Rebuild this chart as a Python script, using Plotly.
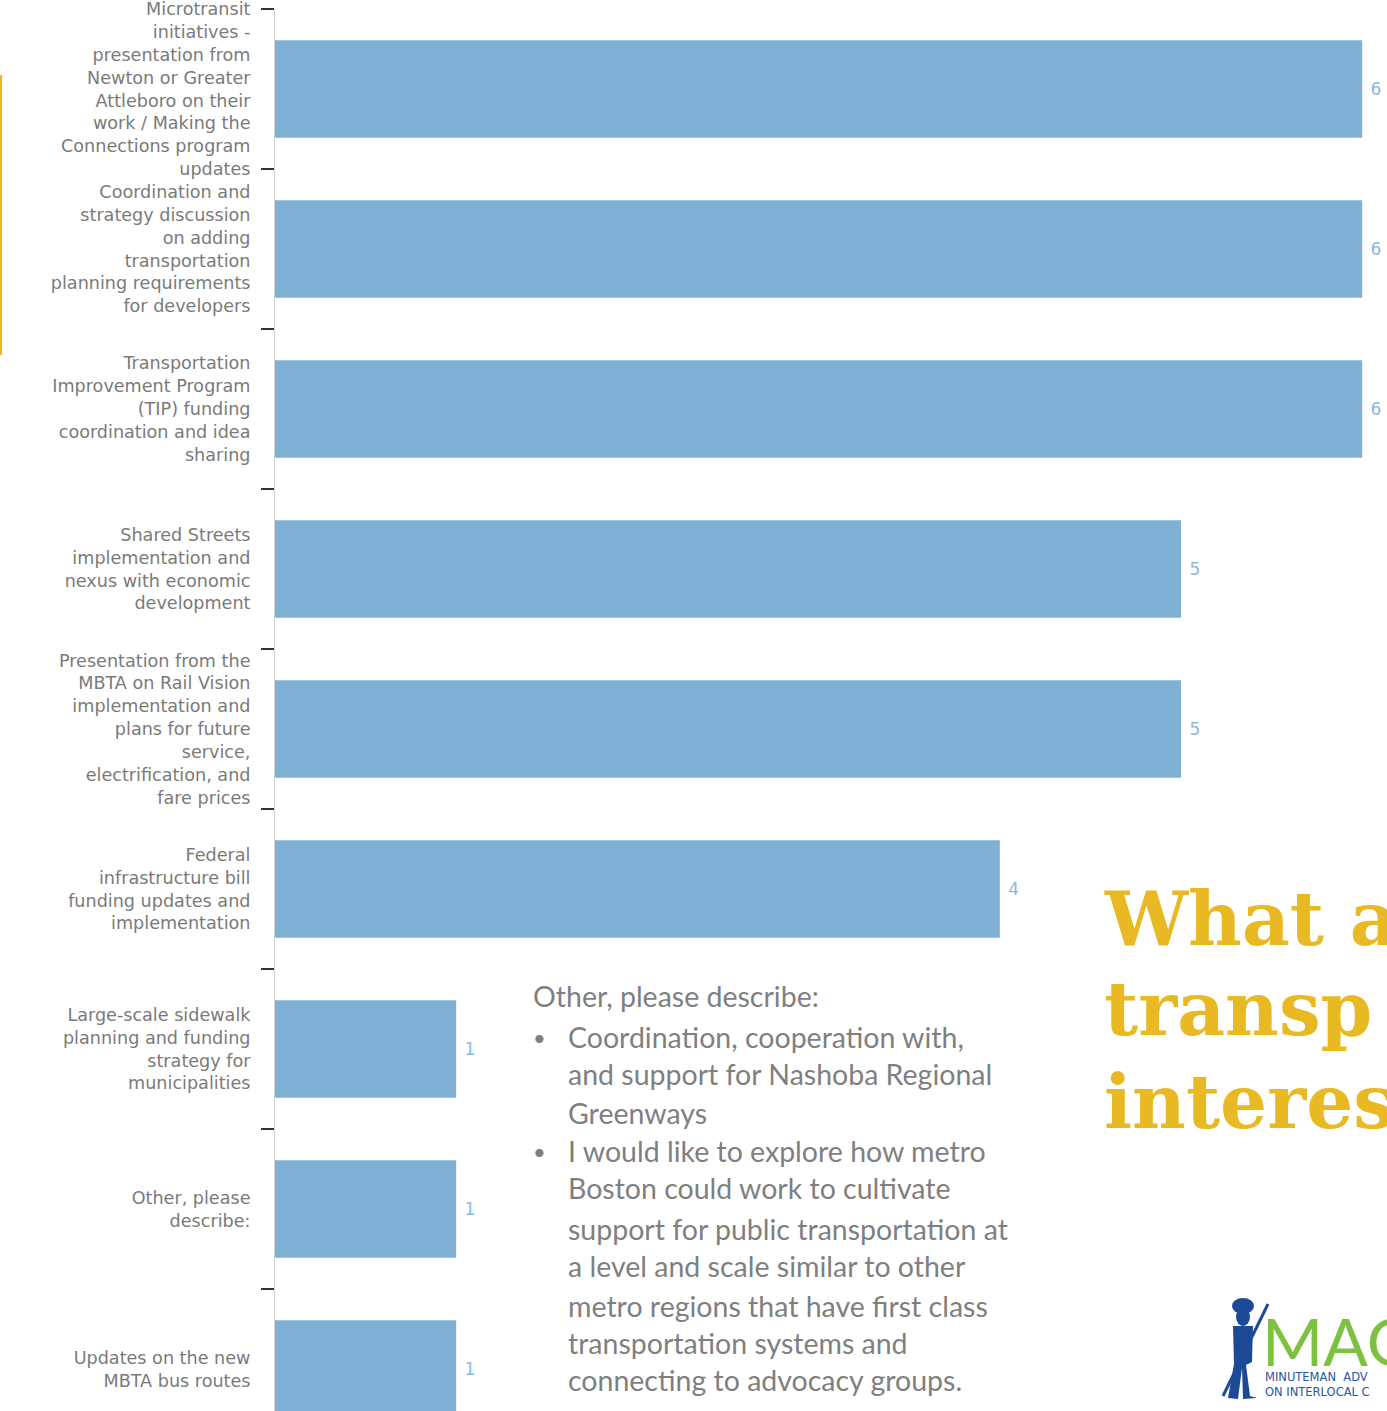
import plotly.graph_objects as go

# ---------------- data ----------------
categories = [
    "Microtransit<br>initiatives -<br>presentation from<br>Newton or Greater<br>Attleboro on their<br>work / Making the<br>Connections program<br>updates",
    "Coordination and<br>strategy discussion<br>on adding<br>transportation<br>planning requirements<br>for developers",
    "Transportation<br>Improvement Program<br>(TIP) funding<br>coordination and idea<br>sharing",
    "Shared Streets<br>implementation and<br>nexus with economic<br>development",
    "Presentation from the<br>MBTA on Rail Vision<br>implementation and<br>plans for future<br>service,<br>electrification, and<br>fare prices",
    "Federal<br>infrastructure bill<br>funding updates and<br>implementation",
    "Large-scale sidewalk<br>planning and funding<br>strategy for<br>municipalities",
    "Other, please<br>describe:",
    "Updates on the new<br>MBTA bus routes",
]
values = [6, 6, 6, 5, 5, 4, 1, 1, 1]

other_heading = "Other, please describe:"
other_bullets = [
    ["Coordination, cooperation with,", "and support for Nashoba Regional", "Greenways"],
    ["I would like to explore how metro", "Boston could work to cultivate",
     "support for public transportation at", "a level and scale similar to other",
     "metro regions that have first class", "transportation systems and",
     "connecting to advocacy groups."],
]
title_lines = ["What a", "transp", "interes"]
logo_big = "MAG"
logo_small = ["MINUTEMAN  ADV", "ON INTERLOCAL C"]

# ---------------- layout helpers ----------------
W, H = 1387, 1411
ML, MR, MT, MB = 275, 0, 9, 0
PW, PH = W - ML - MR, H - MT - MB


def px(x):
    return (x - ML) / PW


def py(y):
    return (H - MB - y) / PH


BAR = "#80b0d3"
GREY = "#7a7a7a"
GOLD = "#e8b923"

fig = go.Figure(
    go.Bar(
        x=values,
        y=categories,
        orientation="h",
        marker=dict(color=BAR, line=dict(width=0)),
        width=0.61,
        texttemplate=" %{x}",
        textposition="outside",
        textfont=dict(family="DejaVu Sans", size=17, color="#8cb8de"),
        constraintext="none",
        cliponaxis=False,
        hoverinfo="skip",
    )
)

fig.update_xaxes(
    range=[0, PW / 181.2],
    visible=False,
    showgrid=False,
    zeroline=False,
)
fig.update_yaxes(
    type="category",
    categoryorder="array",
    categoryarray=categories,
    range=[len(categories) - 1 + (PH / 160 - len(categories)) + 0.5, -0.5],
    showline=True,
    linecolor="#cfcfcf",
    linewidth=1,
    ticks="outside",
    ticklen=13,
    tickwidth=1.5,
    tickcolor="#333333",
    tickson="boundaries",
    ticklabelstandoff=20,
    tickfont=dict(family="DejaVu Sans", size=17.6, color=GREY),
    showgrid=False,
    zeroline=False,
)

annotations = []
shapes = []

# "Other" text block
text_font = dict(family="Lato", size=28.5, color="#7f7f7f")
annotations.append(dict(x=px(531), y=py(996), xref="paper", yref="paper",
                        text=other_heading, showarrow=False, xanchor="left",
                        yanchor="middle", font=text_font))
line_ys = [[1037, 1074, 1113], [1151, 1188, 1229, 1266, 1306, 1343, 1380]]
for bullet, ys in zip(other_bullets, line_ys):
    annotations.append(dict(x=px(531), y=py(ys[0]), xref="paper", yref="paper",
                            text="•", showarrow=False, xanchor="left",
                            yanchor="middle",
                            font=dict(family="Lato", size=22, color="#7f7f7f")))
    for line, yy in zip(bullet, ys):
        annotations.append(dict(x=px(566), y=py(yy), xref="paper", yref="paper",
                                text=line, showarrow=False, xanchor="left",
                                yanchor="middle", font=text_font))

# big gold title (cut off at the right edge)
for line, yy in zip(title_lines, [919, 1009, 1102]):
    annotations.append(dict(x=px(1102), y=py(yy), xref="paper", yref="paper",
                            text="<b>" + line + "</b>", showarrow=False,
                            xanchor="left", yanchor="middle",
                            font=dict(family="DejaVu Serif", size=74, color=GOLD)))

# logo
annotations.append(dict(x=px(1260), y=py(1340), xref="paper", yref="paper",
                        text=logo_big, showarrow=False, xanchor="left",
                        yanchor="middle",
                        font=dict(family="Lato", size=66, color="#7dc142")))
annotations.append(dict(x=px(1263), y=py(1384), xref="paper", yref="paper",
                        text="<br>".join(logo_small), showarrow=False,
                        xanchor="left", yanchor="middle", align="left",
                        font=dict(family="DejaVu Sans", size=11.5, color="#2a55a3")))

# simple minuteman silhouette
BLUE = "#1d4a96"


def path(points):
    return "M " + " L ".join(f"{px(a):.5f},{py(b):.5f}" for a, b in points) + " Z"


shapes.append(dict(type="circle", xref="paper", yref="paper",
                   x0=px(1232), x1=px(1254), y0=py(1298), y1=py(1314),
                   fillcolor=BLUE, line=dict(width=0)))
shapes.append(dict(type="circle", xref="paper", yref="paper",
                   x0=px(1236), x1=px(1250), y0=py(1308), y1=py(1326),
                   fillcolor=BLUE, line=dict(width=0)))
shapes.append(dict(type="path", xref="paper", yref="paper",
                   path=path([(1233, 1326), (1253, 1326), (1252, 1362), (1246, 1365),
                              (1250, 1396), (1257, 1398), (1243, 1399), (1242, 1368),
                              (1238, 1399), (1228, 1398), (1234, 1364)]),
                   fillcolor=BLUE, line=dict(width=0)))
shapes.append(dict(type="line", xref="paper", yref="paper",
                   x0=px(1223), y0=py(1396), x1=px(1268), y1=py(1304),
                   line=dict(color=BLUE, width=3)))

# thin gold accent line on the left edge
shapes.append(dict(type="line", xref="paper", yref="paper",
                   x0=px(1), x1=px(1), y0=py(75), y1=py(355),
                   line=dict(color=GOLD, width=2)))

fig.update_layout(
    width=W,
    height=H,
    margin=dict(l=ML, r=MR, t=MT, b=MB, pad=0),
    paper_bgcolor="white",
    plot_bgcolor="white",
    showlegend=False,
    bargap=0.39,
    annotations=annotations,
    shapes=shapes,
)

fig.write_html(
    "out.html",
    config={"displayModeBar": False},
    post_script="document.body.style.margin='0';document.body.style.overflow='hidden';",
)
